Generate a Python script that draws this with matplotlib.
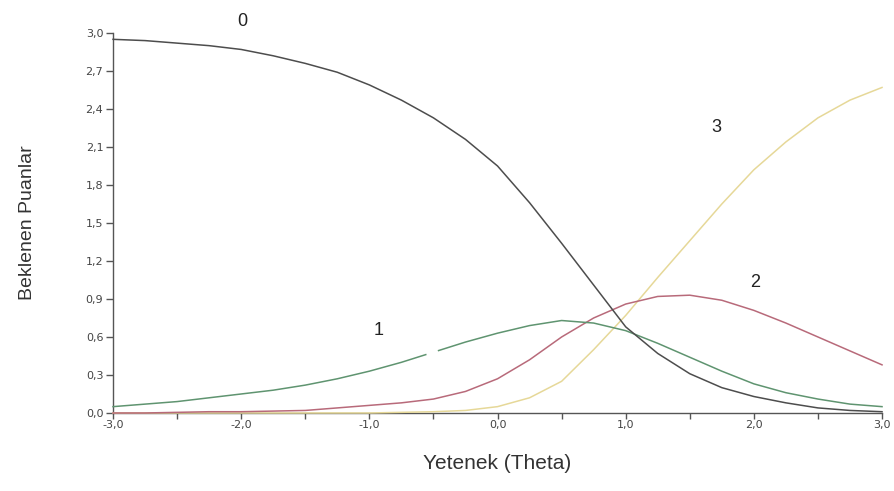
import numpy as np
import matplotlib
matplotlib.use("Agg")
import matplotlib.pyplot as plt

# Yetenek (theta) noktaları
theta = [-3.0, -2.75, -2.5, -2.25, -2.0, -1.75, -1.5, -1.25, -1.0, -0.75, -0.5, -0.25,
         0.0, 0.25, 0.5, 0.75, 1.0, 1.25, 1.5, 1.75, 2.0, 2.25, 2.5, 2.75, 3.0]

# Kategori eğrileri (okunan değerler)
cat0 = [2.95, 2.94, 2.92, 2.90, 2.87, 2.82, 2.76, 2.69, 2.59, 2.47, 2.33, 2.16,
        1.95, 1.66, 1.34, 1.01, 0.68, 0.47, 0.31, 0.20, 0.13, 0.08, 0.04, 0.02, 0.01]
cat1 = [0.05, 0.07, 0.09, 0.12, 0.15, 0.18, 0.22, 0.27, 0.33, 0.40, 0.48, 0.56,
        0.63, 0.69, 0.73, 0.71, 0.65, 0.55, 0.44, 0.33, 0.23, 0.16, 0.11, 0.07, 0.05]
cat2 = [0.0, 0.0, 0.005, 0.01, 0.01, 0.015, 0.02, 0.04, 0.06, 0.08, 0.11, 0.17,
        0.27, 0.42, 0.60, 0.75, 0.86, 0.92, 0.93, 0.89, 0.81, 0.71, 0.60, 0.49, 0.38]
cat3 = [0.0, 0.0, 0.0, 0.0, 0.0, 0.0, 0.0, 0.0, 0.0, 0.005, 0.01, 0.02,
        0.05, 0.12, 0.25, 0.50, 0.77, 1.07, 1.36, 1.65, 1.92, 2.14, 2.33, 2.47, 2.57]

# kategori 1 eğrisindeki boşluk
gap_start, gap_end = -0.56, -0.46

labels = ["0", "1", "2", "3"]
label_pos = [(-1.99, 3.09), (-0.93, 0.65), (2.01, 1.03), (1.71, 2.25)]
colors = ["#4d4d4d", "#5f9470", "#b86a7a", "#e6d898"]

fig = plt.figure(figsize=(8.95, 4.91), dpi=100)
ax = fig.add_axes([0.1263, 0.1589, 0.8592, 0.7739])

# kategori 1'i boşlukla çiz
t = np.array(theta)
c1 = np.array(cat1)
t1 = np.concatenate([t[t < gap_start], [gap_start, np.nan, gap_end], t[t > gap_end]])
c1_line = np.interp([gap_start, gap_end], t, c1)
v1 = np.concatenate([c1[t < gap_start], [c1_line[0], np.nan, c1_line[1]], c1[t > gap_end]])

ax.plot(theta, cat3, color=colors[3], lw=1.1, zorder=3, clip_on=False)
ax.plot(theta, cat2, color=colors[2], lw=1.1, zorder=3, clip_on=False)
ax.plot(t1, v1, color=colors[1], lw=1.1, zorder=3, clip_on=False)
ax.plot(theta, cat0, color=colors[0], lw=1.1, zorder=4, clip_on=False)

for lab, (x, y) in zip(labels, label_pos):
    ax.text(x, y, lab, fontsize=13, ha="center", va="center",
            family="Liberation Sans", color="#222222", clip_on=False)

ax.set_xlim(-3, 3)
ax.set_ylim(0, 3)
ax.set_xticks(np.arange(-3, 3.01, 1.0))
ax.set_xticks(np.arange(-2.5, 3, 1.0), minor=True)
ax.set_yticks(np.arange(0, 3.01, 0.3))
ax.set_xticklabels([f"{v:.1f}".replace(".", ",") for v in np.arange(-3, 3.01, 1.0)])
ax.set_yticklabels([f"{v:.1f}".replace(".", ",") for v in np.arange(0, 3.01, 0.3)])

for s in ["top", "right"]:
    ax.spines[s].set_visible(False)
for s in ["left", "bottom"]:
    ax.spines[s].set_color("#555555")
    ax.spines[s].set_linewidth(1.0)

ax.tick_params(axis="both", which="both", direction="out", color="#555555",
               labelsize=8, labelcolor="#444444", length=5, width=1.0)
ax.tick_params(axis="x", which="both", length=4)
ax.tick_params(axis="x", pad=1)
ax.tick_params(axis="y", pad=2)

ax.set_xlabel("Yetenek (Theta)", fontsize=15, family="Liberation Sans",
              color="#333333", labelpad=17)
ax.set_ylabel("Beklenen Puanlar", fontsize=14, family="Liberation Sans",
              color="#333333", labelpad=36)

fig.savefig("out.png", dpi=100)
